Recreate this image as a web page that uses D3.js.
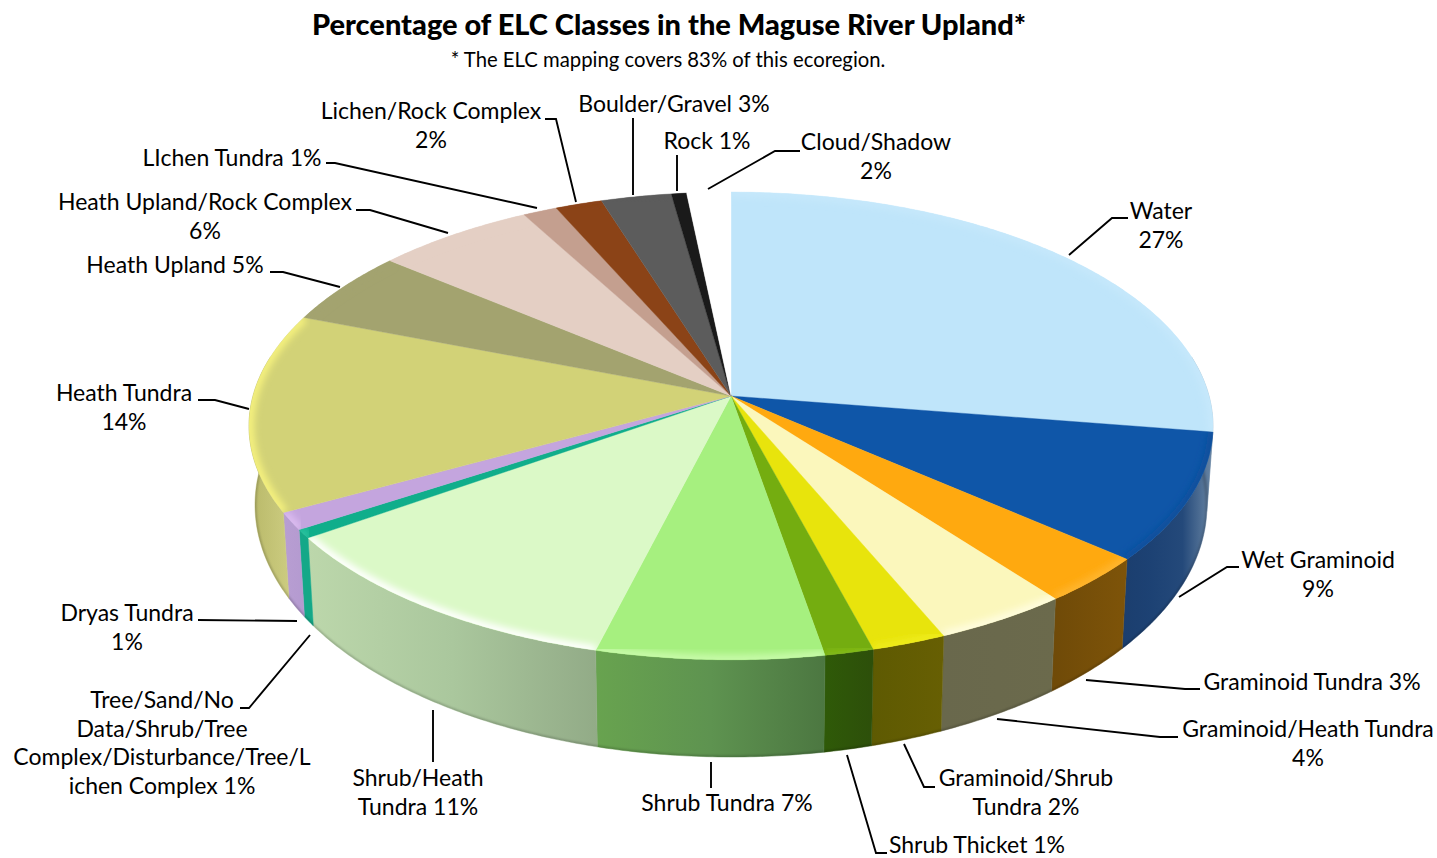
<!DOCTYPE html>
<html>
<head>
<meta charset="utf-8">
<script src="https://cdn.jsdelivr.net/npm/d3@7"></script>
<style>
  html, body { margin: 0; padding: 0; background: #fff; }
  svg { display: block; }
  text { font-family: Lato, "Open Sans", sans-serif; fill: #000; }
</style>
</head>
<body>
<div class="canvas"></div>
<script>
// slice names + the percent printed in the label
const classes = ['Water','Wet Graminoid','Graminoid Tundra','Graminoid/Heath Tundra','Graminoid/Shrub Tundra','Shrub Thicket','Shrub Tundra','Shrub/Heath Tundra','Tree/Sand/No Data/Shrub/Tree Complex/Disturbance/Tree/Lichen Complex','Dryas Tundra','Heath Tundra','Heath Upland','Heath Upland/Rock Complex','LIchen Tundra','Lichen/Rock Complex','Boulder/Gravel','Rock','Cloud/Shadow'];
const printedPercent = [27,9,3,4,2,1,7,11,1,1,14,5,6,1,2,3,1,2];
// wedge sizes (unrounded)
const wedgeShare = [27.45,8.82,3.29,4.02,2.22,1.45,6.74,11.31,0.6,1.2,13.7,5.17,6.03,1.3,1.78,2.67,0.58,1.67];

const topColours = ['#bfe5fa','#0f56a8','#ffa90f','#fbf7bc','#e8e40c','#74ad10','#a6f07f','#dbf9c7','#10ae8b','#c4a5de','#d2d277','#a3a36f','#e4cfc4','#c49f8f','#8b4317','#5c5c5c','#1a1a1a','#ffffff'];
const rimColours = ['#c6e8fb','#0c4f9c','#ffb52e','#fffddf','#efec1c','#82ba18','#c9fbab','#ffffff','#2cc4a0','#dcbcf0','#f6f27e','#a3a36f','#e4cfc4','#c49f8f','#8b4317','#5c5c5c','#1a1a1a','#ffffff'];
const sideColours = [
  ['#8a9fb0','#a6bac9'],['#1b3e6e','#1d4274','#24497a','#6b87a5'],['#6f4a08','#7e5409'],['#69684c','#6b6a4c'],
  ['#5e5a02','#675f03'],['#2f5a08','#2d4f0a'],['#68a34f','#5e9350','#4c7741'],['#bcd7ab','#aac79d','#92ab87'],
  ['#14a888','#14a888'],['#b89ed2','#b49ad0'],['#b8b868','#cccc80'],['#a3a36f','#a3a36f'],['#e4cfc4','#e4cfc4'],
  ['#c49f8f','#c49f8f'],['#8b4317','#8b4317'],['#5c5c5c','#5c5c5c'],['#1a1a1a','#1a1a1a'],['#ffffff','#ffffff']
];

const titleText = 'Percentage of ELC Classes in the Maguse River Upland*';
const subtitleText = '* The ELC mapping covers 83% of this ecoregion.';

// label text lines, placement and leader line for each class
const labelLayout = [
  {lines:['Water','27%'], x:1161, y:219, leader:[[1128,218],[1112,218],[1069,255]]},
  {lines:['Wet Graminoid','9%'], x:1318, y:568, leader:[[1239,567],[1227,567],[1179,597]]},
  {lines:['Graminoid Tundra 3%'], x:1312, y:690, leader:[[1200,689],[1185,689],[1086,680]]},
  {lines:['Graminoid/Heath Tundra','4%'], x:1308, y:737, leader:[[1178,737],[1160,737],[997,719]]},
  {lines:['Graminoid/Shrub','Tundra 2%'], x:1026, y:786, leader:[[935,787],[924,787],[904,744]]},
  {lines:['Shrub Thicket 1%'], x:977, y:853, leader:[[887,853],[876,853],[847,755]]},
  {lines:['Shrub Tundra 7%'], x:727, y:811, leader:[[711,788],[711,762]]},
  {lines:['Shrub/Heath','Tundra 11%'], x:418, y:786, leader:[[433,762],[433,710]]},
  {lines:['Tree/Sand/No','Data/Shrub/Tree','Complex/Disturbance/Tree/L','ichen Complex 1%'], x:162, y:708, leader:[[240,708],[249,708],[310,635]]},
  {lines:['Dryas Tundra','1%'], x:127, y:621, leader:[[198,620],[297,621]]},
  {lines:['Heath Tundra','14%'], x:124, y:401, leader:[[198,400],[215,400],[249,409]]},
  {lines:['Heath Upland 5%'], x:175, y:273, leader:[[270,272],[283,272],[340,287]]},
  {lines:['Heath Upland/Rock Complex','6%'], x:205, y:210, leader:[[356,210],[370,210],[448,233]]},
  {lines:['LIchen Tundra 1%'], x:232, y:166, leader:[[326,163],[335,163],[537,208]]},
  {lines:['Lichen/Rock Complex','2%'], x:431, y:119, leader:[[545,119],[556,119],[576,202]]},
  {lines:['Boulder/Gravel 3%'], x:674, y:112, leader:[[633,118],[633,195]]},
  {lines:['Rock 1%'], x:707, y:149, leader:[[677,155],[677,191]]},
  {lines:['Cloud/Shadow','2%'], x:876, y:150, leader:[[800,151],[775,151],[708,189]]}
];

const dims = {width:1437, height:858, lineGap:28.7};
// tilted disc: pie centre, radii and perspective strength, then the lower face
const disc = {x:731, y:396, rx:478, ry:230, persp:0.128};
const lower = {x:731, y:505, rx:476, ry:252};

const data = classes.map((name,i) => ({name, printed:printedPercent[i], share:wedgeShare[i], i}));

const pie = d3.pie().sort(null).value(d => d.share);
const slices = pie(data);

// angle (clockwise from 12 o'clock) -> point on top rim
const topPoint = a => {
  const u = Math.sin(a), v = -Math.cos(a), w = 1 - disc.persp*v;
  return [disc.x + disc.rx*u/w, disc.y + disc.ry*v/w];
};
// same angle on the lower face
const ellipseH = (disc.ry/(1-disc.persp) + disc.ry/(1+disc.persp))/2;
const ellipseW = disc.rx/Math.sqrt(1-disc.persp*disc.persp);
const ellipseMid = disc.y + (disc.ry/(1-disc.persp) - disc.ry/(1+disc.persp))/2;
const lowerPoint = a => {
  const [px,py] = topPoint(a);
  return [lower.x + (px-disc.x)*lower.rx/ellipseW, lower.y + (py-ellipseMid)*lower.ry/ellipseH];
};

const sampleAngles = (a0,a1) => {
  const n = Math.max(2, Math.ceil((a1-a0)/0.01));
  return d3.range(n+1).map(k => a0 + (a1-a0)*k/n);
};

const line = d3.line();

const svg = d3.select('.canvas').append('svg')
  .attr('width',dims.width)
  .attr('height',dims.height);

const defs = svg.append('defs');
defs.append('filter').attr('id','soft').attr('x','-10%').attr('y','-10%').attr('width','120%').attr('height','120%')
  .append('feGaussianBlur').attr('stdDeviation',3.5);
defs.append('filter').attr('id','softer').attr('x','-10%').attr('y','-10%').attr('width','120%').attr('height','120%')
  .append('feGaussianBlur').attr('stdDeviation',1.2);

// title
svg.append('text').attr('x',669).attr('y',35).attr('text-anchor','middle')
  .attr('font-size',29).attr('font-weight',900).text(titleText);
svg.append('text').attr('x',668).attr('y',67).attr('text-anchor','middle')
  .attr('font-size',20.3).text(subtitleText);

const graph = svg.append('g');

// side walls, only the part that faces the viewer
const sideFrom = 80*Math.PI/180, sideTo = 280*Math.PI/180;
const sides = slices.filter(s => s.endAngle > sideFrom && s.startAngle < sideTo).map(s => {
  const a0 = Math.max(s.startAngle,sideFrom), a1 = Math.min(s.endAngle,sideTo);
  const angles = sampleAngles(a0,a1);
  return {s, angles, pts:angles.map(topPoint).concat(angles.slice().reverse().map(lowerPoint))};
});

sides.forEach(d => {
  const xs = d.pts.map(p => p[0]);
  const grad = defs.append('linearGradient').attr('id','side'+d.s.data.i)
    .attr('gradientUnits','userSpaceOnUse')
    .attr('x1',d3.min(xs)).attr('x2',d3.max(xs)).attr('y1',0).attr('y2',0);
  const cols = sideColours[d.s.data.i];
  cols.forEach((c,k) => grad.append('stop').attr('offset',k/(cols.length-1)).attr('stop-color',c));
});

graph.append('g').selectAll('path')
  .data(sides)
  .enter().append('path')
  .attr('d',d => line(d.pts)+'Z')
  .attr('fill',d => `url(#side${d.s.data.i})`)
  .attr('stroke',d => `url(#side${d.s.data.i})`)
  .attr('stroke-width',0.5);

// soft dark edge along the bottom of the wall
const wallClip = defs.append('clipPath').attr('id','wallClip');
sides.forEach(d => wallClip.append('path').attr('d',line(d.pts)+'Z'));
graph.append('g').attr('clip-path','url(#wallClip)')
  .append('path')
  .attr('d',line(sampleAngles(sideFrom,sideTo).map(lowerPoint)))
  .attr('fill','none').attr('stroke','#000').attr('stroke-opacity',0.2)
  .attr('stroke-width',3).attr('filter','url(#softer)');

// top face wedges
const wedgePoints = s => [[disc.x,disc.y]].concat(sampleAngles(s.startAngle,s.endAngle).map(topPoint));

slices.forEach(s => {
  defs.append('clipPath').attr('id','wedge'+s.data.i)
    .append('path').attr('d',line(wedgePoints(s))+'Z');
});

graph.append('g').selectAll('path')
  .data(slices)
  .enter().append('path')
  .attr('d',s => line(wedgePoints(s))+'Z')
  .attr('fill',s => topColours[s.data.i])
  .attr('stroke',s => topColours[s.data.i])
  .attr('stroke-width',0.4);

// bevel highlight hugging the rim of each wedge
graph.append('g').selectAll('g')
  .data(slices)
  .enter().append('g')
  .attr('clip-path',s => `url(#wedge${s.data.i})`)
  .append('path')
  .attr('d',s => line(sampleAngles(s.startAngle,s.endAngle).map(topPoint)))
  .attr('fill','none')
  .attr('stroke',s => rimColours[s.data.i])
  .attr('stroke-width',10)
  .attr('filter','url(#soft)');

// leader lines
svg.append('g').selectAll('path')
  .data(labelLayout)
  .enter().append('path')
  .attr('d',d => line(d.leader))
  .attr('fill','none').attr('stroke','#000').attr('stroke-width',1.9);

// labels
const labels = svg.append('g').selectAll('text')
  .data(labelLayout)
  .enter().append('text')
  .attr('text-anchor','middle')
  .attr('font-size',23);

labels.selectAll('tspan')
  .data(d => d.lines.map((t,k) => ({t, x:d.x, y:d.y + k*dims.lineGap})))
  .enter().append('tspan')
  .attr('x',d => d.x)
  .attr('y',d => d.y)
  .text(d => d.t);
</script>
</body>
</html>
